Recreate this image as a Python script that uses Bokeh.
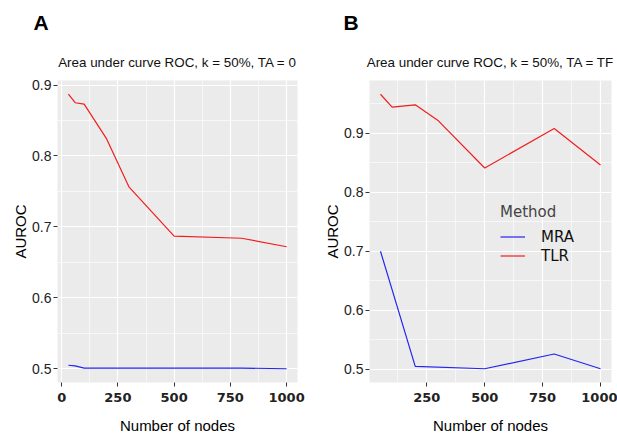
from bokeh.plotting import figure
from bokeh.layouts import row, column
from bokeh.models import (FixedTicker, Range1d, Legend, LegendItem)
from bokeh.core.properties import value
from bokeh.embed import file_html
from bokeh.resources import INLINE

# ---- data ----
nodes_a = [30, 60, 100, 200, 300, 500, 800, 1000]
tlr_a = [0.887, 0.875, 0.873, 0.824, 0.756, 0.687, 0.684, 0.672]
mra_a = [0.505, 0.504, 0.501, 0.501, 0.501, 0.501, 0.501, 0.500]

nodes_b_tlr = [50, 100, 200, 300, 500, 800, 1000]
tlr_b = [0.966, 0.944, 0.948, 0.921, 0.841, 0.908, 0.846]
nodes_b_mra = [50, 200, 500, 800, 1000]
mra_b = [0.700, 0.505, 0.501, 0.526, 0.501]

x_ticks = [0, 250, 500, 750, 1000]
x_minor = [125, 375, 625, 875]
y_ticks = [0.5, 0.6, 0.7, 0.8, 0.9]
y_minor = [0.55, 0.65, 0.75, 0.85, 0.95]

titles = ["Area under curve ROC, k = 50%, TA = 0",
          "Area under curve ROC, k = 50%, TA = TF"]
panel_tags = ["A", "B"]
x_label = "Number of nodes"
y_label = "AUROC"
legend_title = "Method"
methods = ["MRA", "TLR"]
colors = {"MRA": "#2424F2", "TLR": "#F01E1E"}

HEAD_H = 76
MAIN_H = 436 - HEAD_H


def pad_range(vals):
    lo, hi = min(vals), max(vals)
    d = (hi - lo) * 0.05
    return lo - d, hi + d


def make_header(tag, title, width, bl, br, tag_left):
    h = figure(width=width, height=HEAD_H, output_backend="svg", toolbar_location=None,
               x_range=Range1d(0, width), y_range=Range1d(HEAD_H, 0),
               x_axis_type=None, y_axis_type=None, min_border=0)
    h.outline_line_color = None
    h.background_fill_color = "white"
    h.border_fill_color = "white"
    h.grid.visible = False
    h.text(x=[tag_left], y=[22], text=[tag], text_font=value("Liberation Sans"),
           text_font_size="21px", text_font_style="bold", text_color="black",
           text_baseline="alphabetic", text_align="left")
    h.text(x=[(bl + width - br) / 2], y=[62], text=[title], text_font=value("Liberation Sans"),
           text_font_size="13.4px", text_color="#111111",
           text_baseline="alphabetic", text_align="center")
    return h


def make_panel(xs_tlr, ys_tlr, xs_mra, ys_mra, width, bl, br, legend=False):
    x0, x1 = pad_range(xs_tlr + xs_mra)
    y0, y1 = pad_range(ys_tlr + ys_mra)
    p = figure(width=width, height=MAIN_H, output_backend="svg", toolbar_location=None,
               x_range=Range1d(x0, x1), y_range=Range1d(y0, y1),
               min_border_left=bl, min_border_right=br, min_border_top=4,
               min_border_bottom=53, title=None)
    p.background_fill_color = "#EBEBEB"
    p.border_fill_color = "white"
    p.outline_line_color = None

    p.xaxis.ticker = FixedTicker(ticks=x_ticks, minor_ticks=x_minor)
    p.yaxis.ticker = FixedTicker(ticks=y_ticks, minor_ticks=[t for t in y_minor if y0 < t < y1])
    for ax in (p.xaxis, p.yaxis):
        ax.axis_line_color = None
        ax.major_tick_line_color = "#333333"
        ax.major_tick_out = 4
        ax.major_tick_in = 0
        ax.minor_tick_line_color = None
        ax.major_label_text_color = "#222222"
        ax.axis_label_text_font = "Liberation Sans"
        ax.axis_label_text_font_style = "normal"
        ax.axis_label_text_font_size = "15px"
        ax.axis_label_text_color = "black"
    p.xaxis.major_label_text_font = "DejaVu Sans"
    p.xaxis.major_label_text_font_style = "bold"
    p.xaxis.major_label_text_font_size = "13px"
    p.xaxis.major_label_standoff = 6
    p.xaxis.axis_label = x_label
    p.xaxis.axis_label_standoff = 12
    p.yaxis.major_label_text_font = "Liberation Sans"
    p.yaxis.major_label_text_font_size = "14px"
    p.yaxis.major_label_standoff = 2
    p.yaxis.axis_label = y_label
    p.yaxis.axis_label_standoff = 0
    p.yaxis.formatter.use_scientific = False

    for g in (p.xgrid, p.ygrid):
        g.grid_line_color = "white"
        g.grid_line_width = 1.2
        g.minor_grid_line_color = "white"
        g.minor_grid_line_width = 0.6

    r_mra = p.line(xs_mra, ys_mra, line_color=colors["MRA"], line_width=1.2)
    r_tlr = p.line(xs_tlr, ys_tlr, line_color=colors["TLR"], line_width=1.2)

    if legend:
        lg = Legend(items=[LegendItem(label=methods[0], renderers=[r_mra]),
                           LegendItem(label=methods[1], renderers=[r_tlr])],
                    title=legend_title, location=(131, 117),
                    background_fill_alpha=0, border_line_color=None,
                    padding=0, margin=0, spacing=0,
                    glyph_width=25, glyph_height=19, label_height=19,
                    label_standoff=16,
                    title_text_font="DejaVu Sans", title_text_font_size="15px",
                    title_text_font_style="normal", title_standoff=6,
                    label_text_font="DejaVu Sans", label_text_font_size="15px",
                    label_text_color="#111111")
        p.add_layout(lg, "center")
    return p


ha = make_header(panel_tags[0], titles[0], 308, 57, 11, 33)
hb = make_header(panel_tags[1], titles[1], 309, 61, 6, 35)
pa = make_panel(nodes_a, tlr_a, nodes_a, mra_a, 308, 57, 11)
pb = make_panel(nodes_b_tlr, tlr_b, nodes_b_mra, mra_b, 309, 61, 6, legend=True)

layout = column(row(ha, hb, spacing=0), row(pa, pb, spacing=0), spacing=0)
open("out.html", "w").write(file_html(layout, INLINE))
